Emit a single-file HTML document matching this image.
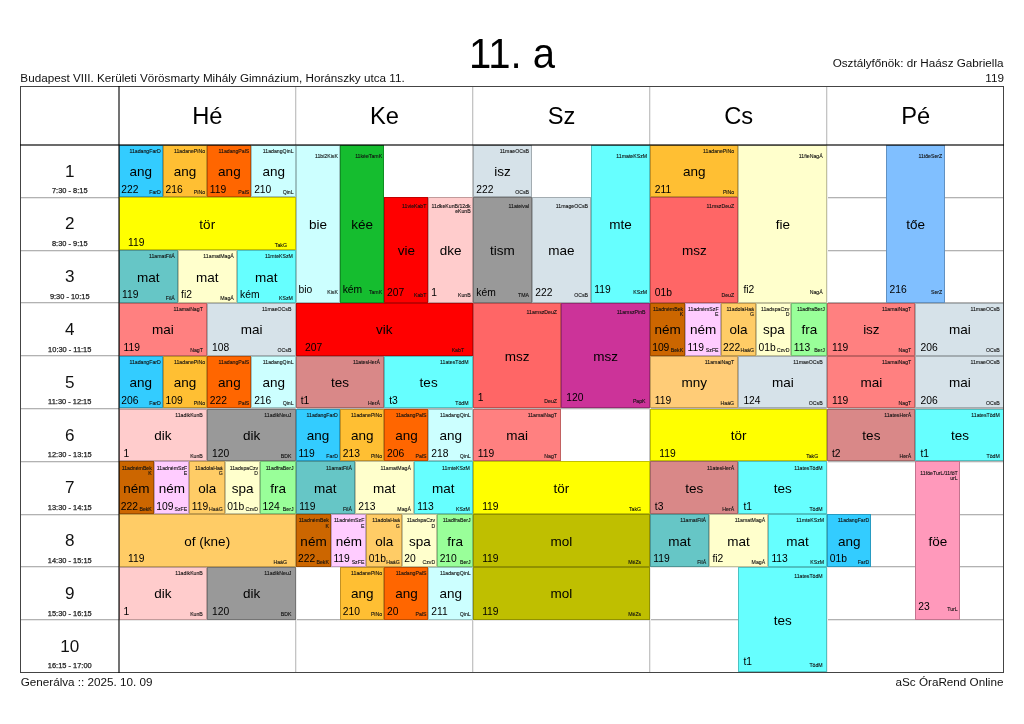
<!DOCTYPE html>
<html><head><meta charset="utf-8"><title>11. a</title><style>
*{margin:0;padding:0;box-sizing:border-box}
html,body{width:1024px;height:724px;background:#fff;overflow:hidden}
body{position:relative;font-family:"Liberation Sans", Arial, Helvetica, sans-serif;color:#000;will-change:transform}
.t{position:absolute;white-space:nowrap;line-height:1}
.t .c{display:inline-block;transform:translateX(-50%)}
.ttl .c{transform:translateX(-50%) scaleX(0.925)}
.l{position:absolute}
.s{-webkit-text-stroke:0.25px currentColor}
.s2{-webkit-text-stroke:0.1px currentColor}
.k{position:absolute;border:1px solid rgba(0,0,0,0.24)}
</style></head><body>
<div class="t ttl" style="left:511.7px;width:0;top:32.35px;font-size:43.3px;color:#000;"><span class="c">11. a</span></div>
<div class="t" style="left:20.35px;top:71.7px;font-size:11.7px;color:#111;">Budapest VIII. Kerületi Vörösmarty Mihály Gimnázium, Horánszky utca 11.</div>
<div class="t" style="right:20.5px;top:57.4px;font-size:11.7px;color:#111;">Osztályfőnök: dr Haász Gabriella</div>
<div class="t" style="right:20.1px;top:71.5px;font-size:11.7px;color:#111;">119</div>
<div class="t" style="left:20.7px;top:676px;font-size:11.7px;color:#111;">Generálva :: 2025. 10. 09</div>
<div class="t" style="right:20.6px;top:675.7px;font-size:11.7px;color:#111;">aSc ÓraRend Online</div>
<div class="l" style="left:20px;top:197px;width:984px;height:1px;background:#b2b2b2"></div>
<div class="l" style="left:20px;top:198px;width:984px;height:1px;background:#e8e8e8"></div>
<div class="l" style="left:20px;top:250px;width:984px;height:1px;background:#b2b2b2"></div>
<div class="l" style="left:20px;top:251px;width:984px;height:1px;background:#e8e8e8"></div>
<div class="l" style="left:20px;top:302px;width:984px;height:1px;background:#b2b2b2"></div>
<div class="l" style="left:20px;top:303px;width:984px;height:1px;background:#e8e8e8"></div>
<div class="l" style="left:20px;top:355px;width:984px;height:1px;background:#b2b2b2"></div>
<div class="l" style="left:20px;top:356px;width:984px;height:1px;background:#e8e8e8"></div>
<div class="l" style="left:20px;top:408px;width:984px;height:1px;background:#b2b2b2"></div>
<div class="l" style="left:20px;top:409px;width:984px;height:1px;background:#e8e8e8"></div>
<div class="l" style="left:20px;top:461px;width:984px;height:1px;background:#b2b2b2"></div>
<div class="l" style="left:20px;top:462px;width:984px;height:1px;background:#e8e8e8"></div>
<div class="l" style="left:20px;top:514px;width:984px;height:1px;background:#b2b2b2"></div>
<div class="l" style="left:20px;top:515px;width:984px;height:1px;background:#e8e8e8"></div>
<div class="l" style="left:20px;top:566px;width:984px;height:1px;background:#b2b2b2"></div>
<div class="l" style="left:20px;top:567px;width:984px;height:1px;background:#e8e8e8"></div>
<div class="l" style="left:20px;top:619px;width:984px;height:1px;background:#b2b2b2"></div>
<div class="l" style="left:20px;top:620px;width:984px;height:1px;background:#e8e8e8"></div>
<div class="l" style="left:295px;top:86px;width:1px;height:586.5px;background:#c4c4c4"></div>
<div class="l" style="left:296px;top:86px;width:1px;height:586.5px;background:#ececec"></div>
<div class="l" style="left:472px;top:86px;width:1px;height:586.5px;background:#c4c4c4"></div>
<div class="l" style="left:473px;top:86px;width:1px;height:586.5px;background:#ececec"></div>
<div class="l" style="left:649px;top:86px;width:1px;height:586.5px;background:#c4c4c4"></div>
<div class="l" style="left:650px;top:86px;width:1px;height:586.5px;background:#ececec"></div>
<div class="l" style="left:826px;top:86px;width:1px;height:586.5px;background:#c4c4c4"></div>
<div class="l" style="left:827px;top:86px;width:1px;height:586.5px;background:#ececec"></div>
<div class="t" style="left:207.35px;width:0;top:104.94px;font-size:23.7px;color:#000;"><span class="c">Hé</span></div>
<div class="t" style="left:384.45px;width:0;top:104.94px;font-size:23.7px;color:#000;"><span class="c">Ke</span></div>
<div class="t" style="left:561.55px;width:0;top:104.94px;font-size:23.7px;color:#000;"><span class="c">Sz</span></div>
<div class="t" style="left:738.65px;width:0;top:104.94px;font-size:23.7px;color:#000;"><span class="c">Cs</span></div>
<div class="t" style="left:915.75px;width:0;top:104.94px;font-size:23.7px;color:#000;"><span class="c">Pé</span></div>
<div class="t" style="left:69.85px;width:0;top:162.62px;font-size:17.1px;color:#111;"><span class="c">1</span></div>
<div class="t s" style="left:69.75px;width:0;top:187.19px;font-size:7.45px;color:#222;"><span class="c">7:30 - 8:15</span></div>
<div class="t" style="left:69.85px;width:0;top:215.42px;font-size:17.1px;color:#111;"><span class="c">2</span></div>
<div class="t s" style="left:69.75px;width:0;top:239.99px;font-size:7.45px;color:#222;"><span class="c">8:30 - 9:15</span></div>
<div class="t" style="left:69.85px;width:0;top:268.22px;font-size:17.1px;color:#111;"><span class="c">3</span></div>
<div class="t s" style="left:69.75px;width:0;top:292.79px;font-size:7.45px;color:#222;"><span class="c">9:30 - 10:15</span></div>
<div class="t" style="left:69.85px;width:0;top:321.02px;font-size:17.1px;color:#111;"><span class="c">4</span></div>
<div class="t s" style="left:69.75px;width:0;top:345.59px;font-size:7.45px;color:#222;"><span class="c">10:30 - 11:15</span></div>
<div class="t" style="left:69.85px;width:0;top:373.82px;font-size:17.1px;color:#111;"><span class="c">5</span></div>
<div class="t s" style="left:69.75px;width:0;top:398.39px;font-size:7.45px;color:#222;"><span class="c">11:30 - 12:15</span></div>
<div class="t" style="left:69.85px;width:0;top:426.62px;font-size:17.1px;color:#111;"><span class="c">6</span></div>
<div class="t s" style="left:69.75px;width:0;top:451.19px;font-size:7.45px;color:#222;"><span class="c">12:30 - 13:15</span></div>
<div class="t" style="left:69.85px;width:0;top:479.42px;font-size:17.1px;color:#111;"><span class="c">7</span></div>
<div class="t s" style="left:69.75px;width:0;top:503.99px;font-size:7.45px;color:#222;"><span class="c">13:30 - 14:15</span></div>
<div class="t" style="left:69.85px;width:0;top:532.22px;font-size:17.1px;color:#111;"><span class="c">8</span></div>
<div class="t s" style="left:69.75px;width:0;top:556.79px;font-size:7.45px;color:#222;"><span class="c">14:30 - 15:15</span></div>
<div class="t" style="left:69.85px;width:0;top:585.02px;font-size:17.1px;color:#111;"><span class="c">9</span></div>
<div class="t s" style="left:69.75px;width:0;top:609.59px;font-size:7.45px;color:#222;"><span class="c">15:30 - 16:15</span></div>
<div class="t" style="left:69.85px;width:0;top:637.82px;font-size:17.1px;color:#111;"><span class="c">10</span></div>
<div class="t s" style="left:69.75px;width:0;top:662.39px;font-size:7.45px;color:#222;"><span class="c">16:15 - 17:00</span></div>
<div class="k" style="left:118.5px;top:144.5px;width:44.28px;height:52.8px;background:#33ccff"></div>
<div class="t s2" style="right:863.24px;top:148.74px;font-size:5.2px;color:#111;">11adangFarD</div>
<div class="t" style="left:140.84px;width:0;top:164.95px;font-size:13.5px;color:#000;"><span class="c">ang</span></div>
<div class="t" style="left:121.31px;top:184.86px;font-size:10.3px;color:#000;">222</div>
<div class="t s2" style="right:863.24px;top:190.06px;font-size:5.2px;color:#111;">FarD</div>
<div class="k" style="left:162.78px;top:144.5px;width:44.28px;height:52.8px;background:#ffbf33"></div>
<div class="t s2" style="right:818.96px;top:148.74px;font-size:5.2px;color:#111;">11adanePiNo</div>
<div class="t" style="left:185.11px;width:0;top:164.95px;font-size:13.5px;color:#000;"><span class="c">ang</span></div>
<div class="t" style="left:165.59px;top:184.86px;font-size:10.3px;color:#000;">216</div>
<div class="t s2" style="right:818.96px;top:190.06px;font-size:5.2px;color:#111;">PiNo</div>
<div class="k" style="left:207.05px;top:144.5px;width:44.27px;height:52.8px;background:#ff6600"></div>
<div class="t s2" style="right:774.69px;top:148.74px;font-size:5.2px;color:#111;">11adangPalS</div>
<div class="t" style="left:229.39px;width:0;top:164.95px;font-size:13.5px;color:#000;"><span class="c">ang</span></div>
<div class="t" style="left:209.86px;top:184.86px;font-size:10.3px;color:#000;">119</div>
<div class="t s2" style="right:774.69px;top:190.06px;font-size:5.2px;color:#111;">PalS</div>
<div class="k" style="left:251.32px;top:144.5px;width:44.28px;height:52.8px;background:#ccffff"></div>
<div class="t s2" style="right:730.41px;top:148.74px;font-size:5.2px;color:#111;">11adangQinL</div>
<div class="t" style="left:273.66px;width:0;top:164.95px;font-size:13.5px;color:#000;"><span class="c">ang</span></div>
<div class="t" style="left:254.14px;top:184.86px;font-size:10.3px;color:#000;">210</div>
<div class="t s2" style="right:730.41px;top:190.06px;font-size:5.2px;color:#111;">QinL</div>
<div class="k" style="left:118.5px;top:197.3px;width:177.1px;height:52.8px;background:#ffff00"></div>
<div class="t" style="left:207.25px;width:0;top:217.75px;font-size:13.5px;color:#000;"><span class="c">tör</span></div>
<div class="t" style="left:127.95px;top:237.66px;font-size:10.3px;color:#000;">119</div>
<div class="t s2" style="right:737.06px;top:242.86px;font-size:5.2px;color:#111;">TakG</div>
<div class="k" style="left:118.5px;top:250.1px;width:59.03px;height:52.8px;background:#66c6c6"></div>
<div class="t s2" style="right:849.22px;top:254.34px;font-size:5.2px;color:#111;">11amatFilÁ</div>
<div class="t" style="left:148.22px;width:0;top:270.55px;font-size:13.5px;color:#000;"><span class="c">mat</span></div>
<div class="t" style="left:122.05px;top:290.46px;font-size:10.3px;color:#000;">119</div>
<div class="t s2" style="right:849.22px;top:295.66px;font-size:5.2px;color:#111;">FilÁ</div>
<div class="k" style="left:177.53px;top:250.1px;width:59.03px;height:52.8px;background:#ffffcc"></div>
<div class="t s2" style="right:790.18px;top:254.34px;font-size:5.2px;color:#111;">11amatMagÁ</div>
<div class="t" style="left:207.25px;width:0;top:270.55px;font-size:13.5px;color:#000;"><span class="c">mat</span></div>
<div class="t" style="left:181.08px;top:290.46px;font-size:10.3px;color:#000;">fi2</div>
<div class="t s2" style="right:790.18px;top:295.66px;font-size:5.2px;color:#111;">MagÁ</div>
<div class="k" style="left:236.57px;top:250.1px;width:59.03px;height:52.8px;background:#66ffff"></div>
<div class="t s2" style="right:731.15px;top:254.34px;font-size:5.2px;color:#111;">11mteKSzM</div>
<div class="t" style="left:266.28px;width:0;top:270.55px;font-size:13.5px;color:#000;"><span class="c">mat</span></div>
<div class="t" style="left:240.12px;top:290.46px;font-size:10.3px;color:#000;">kém</div>
<div class="t s2" style="right:731.15px;top:295.66px;font-size:5.2px;color:#111;">KSzM</div>
<div class="k" style="left:118.5px;top:302.9px;width:88.55px;height:52.8px;background:#ff8080"></div>
<div class="t s2" style="right:821.18px;top:307.14px;font-size:5.2px;color:#111;">11amaiNagT</div>
<div class="t" style="left:162.97px;width:0;top:323.35px;font-size:13.5px;color:#000;"><span class="c">mai</span></div>
<div class="t" style="left:123.53px;top:343.26px;font-size:10.3px;color:#000;">119</div>
<div class="t s2" style="right:821.18px;top:348.46px;font-size:5.2px;color:#111;">NagT</div>
<div class="k" style="left:207.05px;top:302.9px;width:88.55px;height:52.8px;background:#d6e2e9"></div>
<div class="t s2" style="right:732.63px;top:307.14px;font-size:5.2px;color:#111;">11maeOCsB</div>
<div class="t" style="left:251.53px;width:0;top:323.35px;font-size:13.5px;color:#000;"><span class="c">mai</span></div>
<div class="t" style="left:212.08px;top:343.26px;font-size:10.3px;color:#000;">108</div>
<div class="t s2" style="right:732.63px;top:348.46px;font-size:5.2px;color:#111;">OCsB</div>
<div class="k" style="left:118.5px;top:355.7px;width:44.28px;height:52.8px;background:#33ccff"></div>
<div class="t s2" style="right:863.24px;top:359.94px;font-size:5.2px;color:#111;">11adangFarD</div>
<div class="t" style="left:140.84px;width:0;top:376.15px;font-size:13.5px;color:#000;"><span class="c">ang</span></div>
<div class="t" style="left:121.31px;top:396.06px;font-size:10.3px;color:#000;">206</div>
<div class="t s2" style="right:863.24px;top:401.26px;font-size:5.2px;color:#111;">FarD</div>
<div class="k" style="left:162.78px;top:355.7px;width:44.28px;height:52.8px;background:#ffbf33"></div>
<div class="t s2" style="right:818.96px;top:359.94px;font-size:5.2px;color:#111;">11adanePiNo</div>
<div class="t" style="left:185.11px;width:0;top:376.15px;font-size:13.5px;color:#000;"><span class="c">ang</span></div>
<div class="t" style="left:165.59px;top:396.06px;font-size:10.3px;color:#000;">109</div>
<div class="t s2" style="right:818.96px;top:401.26px;font-size:5.2px;color:#111;">PiNo</div>
<div class="k" style="left:207.05px;top:355.7px;width:44.27px;height:52.8px;background:#ff6600"></div>
<div class="t s2" style="right:774.69px;top:359.94px;font-size:5.2px;color:#111;">11adangPalS</div>
<div class="t" style="left:229.39px;width:0;top:376.15px;font-size:13.5px;color:#000;"><span class="c">ang</span></div>
<div class="t" style="left:209.86px;top:396.06px;font-size:10.3px;color:#000;">222</div>
<div class="t s2" style="right:774.69px;top:401.26px;font-size:5.2px;color:#111;">PalS</div>
<div class="k" style="left:251.32px;top:355.7px;width:44.28px;height:52.8px;background:#ccffff"></div>
<div class="t s2" style="right:730.41px;top:359.94px;font-size:5.2px;color:#111;">11adangQinL</div>
<div class="t" style="left:273.66px;width:0;top:376.15px;font-size:13.5px;color:#000;"><span class="c">ang</span></div>
<div class="t" style="left:254.14px;top:396.06px;font-size:10.3px;color:#000;">216</div>
<div class="t s2" style="right:730.41px;top:401.26px;font-size:5.2px;color:#111;">QinL</div>
<div class="k" style="left:118.5px;top:408.5px;width:88.55px;height:52.8px;background:#ffcccc"></div>
<div class="t s2" style="right:821.18px;top:412.74px;font-size:5.2px;color:#111;">11adikKunB</div>
<div class="t" style="left:162.97px;width:0;top:428.95px;font-size:13.5px;color:#000;"><span class="c">dik</span></div>
<div class="t" style="left:123.53px;top:448.86px;font-size:10.3px;color:#000;">1</div>
<div class="t s2" style="right:821.18px;top:454.06px;font-size:5.2px;color:#111;">KunB</div>
<div class="k" style="left:207.05px;top:408.5px;width:88.55px;height:52.8px;background:#999999"></div>
<div class="t s2" style="right:732.63px;top:412.74px;font-size:5.2px;color:#111;">11adikNeuJ</div>
<div class="t" style="left:251.53px;width:0;top:428.95px;font-size:13.5px;color:#000;"><span class="c">dik</span></div>
<div class="t" style="left:212.08px;top:448.86px;font-size:10.3px;color:#000;">120</div>
<div class="t s2" style="right:732.63px;top:454.06px;font-size:5.2px;color:#111;">BDK</div>
<div class="k" style="left:118.5px;top:461.3px;width:35.42px;height:52.8px;background:#cc6600"></div>
<div class="t s2" style="right:872.18px;top:465.54px;font-size:5.2px;color:#111;">11adnémBek</div>
<div class="t s2" style="right:872.18px;top:470.74px;font-size:5.2px;color:#111;">K</div>
<div class="t" style="left:136.41px;width:0;top:481.75px;font-size:13.5px;color:#000;"><span class="c">ném</span></div>
<div class="t" style="left:120.87px;top:501.66px;font-size:10.3px;color:#000;">222</div>
<div class="t s2" style="right:872.18px;top:506.86px;font-size:5.2px;color:#111;">BekK</div>
<div class="k" style="left:153.92px;top:461.3px;width:35.42px;height:52.8px;background:#ffccff"></div>
<div class="t s2" style="right:836.76px;top:465.54px;font-size:5.2px;color:#111;">11adnémSzF</div>
<div class="t s2" style="right:836.76px;top:470.74px;font-size:5.2px;color:#111;">E</div>
<div class="t" style="left:171.83px;width:0;top:481.75px;font-size:13.5px;color:#000;"><span class="c">ném</span></div>
<div class="t" style="left:156.29px;top:501.66px;font-size:10.3px;color:#000;">109</div>
<div class="t s2" style="right:836.76px;top:506.86px;font-size:5.2px;color:#111;">SzFE</div>
<div class="k" style="left:189.34px;top:461.3px;width:35.42px;height:52.8px;background:#ffcc66"></div>
<div class="t s2" style="right:801.34px;top:465.54px;font-size:5.2px;color:#111;">11adolaHaá</div>
<div class="t s2" style="right:801.34px;top:470.74px;font-size:5.2px;color:#111;">G</div>
<div class="t" style="left:207.25px;width:0;top:481.75px;font-size:13.5px;color:#000;"><span class="c">ola</span></div>
<div class="t" style="left:191.71px;top:501.66px;font-size:10.3px;color:#000;">119</div>
<div class="t s2" style="right:801.34px;top:506.86px;font-size:5.2px;color:#111;">HaáG</div>
<div class="k" style="left:224.76px;top:461.3px;width:35.42px;height:52.8px;background:#ffffcc"></div>
<div class="t s2" style="right:765.92px;top:465.54px;font-size:5.2px;color:#111;">11adspaCzv</div>
<div class="t s2" style="right:765.92px;top:470.74px;font-size:5.2px;color:#111;">D</div>
<div class="t" style="left:242.67px;width:0;top:481.75px;font-size:13.5px;color:#000;"><span class="c">spa</span></div>
<div class="t" style="left:227.13px;top:501.66px;font-size:10.3px;color:#000;">01b</div>
<div class="t s2" style="right:765.92px;top:506.86px;font-size:5.2px;color:#111;">CzvD</div>
<div class="k" style="left:260.18px;top:461.3px;width:35.42px;height:52.8px;background:#99ff99"></div>
<div class="t s2" style="right:730.5px;top:465.54px;font-size:5.2px;color:#111;">11adfraBerJ</div>
<div class="t" style="left:278.09px;width:0;top:481.75px;font-size:13.5px;color:#000;"><span class="c">fra</span></div>
<div class="t" style="left:262.55px;top:501.66px;font-size:10.3px;color:#000;">124</div>
<div class="t s2" style="right:730.5px;top:506.86px;font-size:5.2px;color:#111;">BerJ</div>
<div class="k" style="left:118.5px;top:514.1px;width:177.1px;height:52.8px;background:#ffcc66"></div>
<div class="t" style="left:207.25px;width:0;top:534.55px;font-size:13.5px;color:#000;"><span class="c">of (kne)</span></div>
<div class="t" style="left:127.95px;top:554.46px;font-size:10.3px;color:#000;">119</div>
<div class="t s2" style="right:737.06px;top:559.66px;font-size:5.2px;color:#111;">HaáG</div>
<div class="k" style="left:118.5px;top:566.9px;width:88.55px;height:52.8px;background:#ffcccc"></div>
<div class="t s2" style="right:821.18px;top:571.14px;font-size:5.2px;color:#111;">11adikKunB</div>
<div class="t" style="left:162.97px;width:0;top:587.35px;font-size:13.5px;color:#000;"><span class="c">dik</span></div>
<div class="t" style="left:123.53px;top:607.26px;font-size:10.3px;color:#000;">1</div>
<div class="t s2" style="right:821.18px;top:612.46px;font-size:5.2px;color:#111;">KunB</div>
<div class="k" style="left:207.05px;top:566.9px;width:88.55px;height:52.8px;background:#999999"></div>
<div class="t s2" style="right:732.63px;top:571.14px;font-size:5.2px;color:#111;">11adikNeuJ</div>
<div class="t" style="left:251.53px;width:0;top:587.35px;font-size:13.5px;color:#000;"><span class="c">dik</span></div>
<div class="t" style="left:212.08px;top:607.26px;font-size:10.3px;color:#000;">120</div>
<div class="t s2" style="right:732.63px;top:612.46px;font-size:5.2px;color:#111;">BDK</div>
<div class="k" style="left:295.6px;top:144.5px;width:44.27px;height:158.4px;background:#ccffff"></div>
<div class="t s2" style="right:686.14px;top:154.02px;font-size:5.2px;color:#111;">11bi2KisK</div>
<div class="t" style="left:317.94px;width:0;top:217.75px;font-size:13.5px;color:#000;"><span class="c">bie</span></div>
<div class="t" style="left:298.41px;top:285.18px;font-size:10.3px;color:#000;">bio</div>
<div class="t s2" style="right:686.14px;top:290.38px;font-size:5.2px;color:#111;">KisK</div>
<div class="k" style="left:339.88px;top:144.5px;width:44.28px;height:158.4px;background:#15bd2f"></div>
<div class="t s2" style="right:641.86px;top:154.02px;font-size:5.2px;color:#111;">11kéeTamK</div>
<div class="t" style="left:362.21px;width:0;top:217.75px;font-size:13.5px;color:#000;"><span class="c">kée</span></div>
<div class="t" style="left:342.69px;top:285.18px;font-size:10.3px;color:#000;">kém</div>
<div class="t s2" style="right:641.86px;top:290.38px;font-size:5.2px;color:#111;">TamK</div>
<div class="k" style="left:384.15px;top:197.3px;width:44.27px;height:105.6px;background:#ff0000"></div>
<div class="t s2" style="right:597.59px;top:204.18px;font-size:5.2px;color:#111;">11vieKabT</div>
<div class="t" style="left:406.49px;width:0;top:244.15px;font-size:13.5px;color:#000;"><span class="c">vie</span></div>
<div class="t" style="left:386.96px;top:287.82px;font-size:10.3px;color:#000;">207</div>
<div class="t s2" style="right:597.59px;top:293.02px;font-size:5.2px;color:#111;">KabT</div>
<div class="k" style="left:428.43px;top:197.3px;width:44.28px;height:105.6px;background:#ffcccc"></div>
<div class="t s2" style="right:553.31px;top:204.18px;font-size:5.2px;color:#111;">11dkeKunB/12dk</div>
<div class="t s2" style="right:553.31px;top:209.38px;font-size:5.2px;color:#111;">eKunB</div>
<div class="t" style="left:450.76px;width:0;top:244.15px;font-size:13.5px;color:#000;"><span class="c">dke</span></div>
<div class="t" style="left:431.24px;top:287.82px;font-size:10.3px;color:#000;">1</div>
<div class="t s2" style="right:553.31px;top:293.02px;font-size:5.2px;color:#111;">KunB</div>
<div class="k" style="left:295.6px;top:302.9px;width:177.1px;height:52.8px;background:#ff0000"></div>
<div class="t" style="left:384.35px;width:0;top:323.35px;font-size:13.5px;color:#000;"><span class="c">vik</span></div>
<div class="t" style="left:305.06px;top:343.26px;font-size:10.3px;color:#000;">207</div>
<div class="t s2" style="right:559.95px;top:348.46px;font-size:5.2px;color:#111;">KabT</div>
<div class="k" style="left:295.6px;top:355.7px;width:88.55px;height:52.8px;background:#d98888"></div>
<div class="t s2" style="right:644.08px;top:359.94px;font-size:5.2px;color:#111;">11atesHerÁ</div>
<div class="t" style="left:340.07px;width:0;top:376.15px;font-size:13.5px;color:#000;"><span class="c">tes</span></div>
<div class="t" style="left:300.63px;top:396.06px;font-size:10.3px;color:#000;">t1</div>
<div class="t s2" style="right:644.08px;top:401.26px;font-size:5.2px;color:#111;">HerÁ</div>
<div class="k" style="left:384.15px;top:355.7px;width:88.55px;height:52.8px;background:#66ffff"></div>
<div class="t s2" style="right:555.53px;top:359.94px;font-size:5.2px;color:#111;">11atesTödM</div>
<div class="t" style="left:428.63px;width:0;top:376.15px;font-size:13.5px;color:#000;"><span class="c">tes</span></div>
<div class="t" style="left:389.18px;top:396.06px;font-size:10.3px;color:#000;">t3</div>
<div class="t s2" style="right:555.53px;top:401.26px;font-size:5.2px;color:#111;">TödM</div>
<div class="k" style="left:295.6px;top:408.5px;width:44.27px;height:52.8px;background:#33ccff"></div>
<div class="t s2" style="right:686.14px;top:412.74px;font-size:5.2px;color:#111;">11adangFarD</div>
<div class="t" style="left:317.94px;width:0;top:428.95px;font-size:13.5px;color:#000;"><span class="c">ang</span></div>
<div class="t" style="left:298.41px;top:448.86px;font-size:10.3px;color:#000;">119</div>
<div class="t s2" style="right:686.14px;top:454.06px;font-size:5.2px;color:#111;">FarD</div>
<div class="k" style="left:339.88px;top:408.5px;width:44.28px;height:52.8px;background:#ffbf33"></div>
<div class="t s2" style="right:641.86px;top:412.74px;font-size:5.2px;color:#111;">11adanePiNo</div>
<div class="t" style="left:362.21px;width:0;top:428.95px;font-size:13.5px;color:#000;"><span class="c">ang</span></div>
<div class="t" style="left:342.69px;top:448.86px;font-size:10.3px;color:#000;">213</div>
<div class="t s2" style="right:641.86px;top:454.06px;font-size:5.2px;color:#111;">PiNo</div>
<div class="k" style="left:384.15px;top:408.5px;width:44.27px;height:52.8px;background:#ff6600"></div>
<div class="t s2" style="right:597.59px;top:412.74px;font-size:5.2px;color:#111;">11adangPalS</div>
<div class="t" style="left:406.49px;width:0;top:428.95px;font-size:13.5px;color:#000;"><span class="c">ang</span></div>
<div class="t" style="left:386.96px;top:448.86px;font-size:10.3px;color:#000;">206</div>
<div class="t s2" style="right:597.59px;top:454.06px;font-size:5.2px;color:#111;">PalS</div>
<div class="k" style="left:428.43px;top:408.5px;width:44.28px;height:52.8px;background:#ccffff"></div>
<div class="t s2" style="right:553.31px;top:412.74px;font-size:5.2px;color:#111;">11adangQinL</div>
<div class="t" style="left:450.76px;width:0;top:428.95px;font-size:13.5px;color:#000;"><span class="c">ang</span></div>
<div class="t" style="left:431.24px;top:448.86px;font-size:10.3px;color:#000;">218</div>
<div class="t s2" style="right:553.31px;top:454.06px;font-size:5.2px;color:#111;">QinL</div>
<div class="k" style="left:295.6px;top:461.3px;width:59.03px;height:52.8px;background:#66c6c6"></div>
<div class="t s2" style="right:672.12px;top:465.54px;font-size:5.2px;color:#111;">11amatFilÁ</div>
<div class="t" style="left:325.32px;width:0;top:481.75px;font-size:13.5px;color:#000;"><span class="c">mat</span></div>
<div class="t" style="left:299.15px;top:501.66px;font-size:10.3px;color:#000;">119</div>
<div class="t s2" style="right:672.12px;top:506.86px;font-size:5.2px;color:#111;">FilÁ</div>
<div class="k" style="left:354.63px;top:461.3px;width:59.03px;height:52.8px;background:#ffffcc"></div>
<div class="t s2" style="right:613.09px;top:465.54px;font-size:5.2px;color:#111;">11amatMagÁ</div>
<div class="t" style="left:384.35px;width:0;top:481.75px;font-size:13.5px;color:#000;"><span class="c">mat</span></div>
<div class="t" style="left:358.19px;top:501.66px;font-size:10.3px;color:#000;">213</div>
<div class="t s2" style="right:613.09px;top:506.86px;font-size:5.2px;color:#111;">MagÁ</div>
<div class="k" style="left:413.67px;top:461.3px;width:59.03px;height:52.8px;background:#66ffff"></div>
<div class="t s2" style="right:554.05px;top:465.54px;font-size:5.2px;color:#111;">11mteKSzM</div>
<div class="t" style="left:443.38px;width:0;top:481.75px;font-size:13.5px;color:#000;"><span class="c">mat</span></div>
<div class="t" style="left:417.22px;top:501.66px;font-size:10.3px;color:#000;">113</div>
<div class="t s2" style="right:554.05px;top:506.86px;font-size:5.2px;color:#111;">KSzM</div>
<div class="k" style="left:295.6px;top:514.1px;width:35.42px;height:52.8px;background:#cc6600"></div>
<div class="t s2" style="right:695.08px;top:518.34px;font-size:5.2px;color:#111;">11adnémBek</div>
<div class="t s2" style="right:695.08px;top:523.54px;font-size:5.2px;color:#111;">K</div>
<div class="t" style="left:313.51px;width:0;top:534.55px;font-size:13.5px;color:#000;"><span class="c">ném</span></div>
<div class="t" style="left:297.97px;top:554.46px;font-size:10.3px;color:#000;">222</div>
<div class="t s2" style="right:695.08px;top:559.66px;font-size:5.2px;color:#111;">BekK</div>
<div class="k" style="left:331.02px;top:514.1px;width:35.42px;height:52.8px;background:#ffccff"></div>
<div class="t s2" style="right:659.66px;top:518.34px;font-size:5.2px;color:#111;">11adnémSzF</div>
<div class="t s2" style="right:659.66px;top:523.54px;font-size:5.2px;color:#111;">E</div>
<div class="t" style="left:348.93px;width:0;top:534.55px;font-size:13.5px;color:#000;"><span class="c">ném</span></div>
<div class="t" style="left:333.39px;top:554.46px;font-size:10.3px;color:#000;">119</div>
<div class="t s2" style="right:659.66px;top:559.66px;font-size:5.2px;color:#111;">SzFE</div>
<div class="k" style="left:366.44px;top:514.1px;width:35.42px;height:52.8px;background:#ffcc66"></div>
<div class="t s2" style="right:624.24px;top:518.34px;font-size:5.2px;color:#111;">11adolaHaá</div>
<div class="t s2" style="right:624.24px;top:523.54px;font-size:5.2px;color:#111;">G</div>
<div class="t" style="left:384.35px;width:0;top:534.55px;font-size:13.5px;color:#000;"><span class="c">ola</span></div>
<div class="t" style="left:368.81px;top:554.46px;font-size:10.3px;color:#000;">01b</div>
<div class="t s2" style="right:624.24px;top:559.66px;font-size:5.2px;color:#111;">HaáG</div>
<div class="k" style="left:401.86px;top:514.1px;width:35.42px;height:52.8px;background:#ffffcc"></div>
<div class="t s2" style="right:588.82px;top:518.34px;font-size:5.2px;color:#111;">11adspaCzv</div>
<div class="t s2" style="right:588.82px;top:523.54px;font-size:5.2px;color:#111;">D</div>
<div class="t" style="left:419.77px;width:0;top:534.55px;font-size:13.5px;color:#000;"><span class="c">spa</span></div>
<div class="t" style="left:404.23px;top:554.46px;font-size:10.3px;color:#000;">20</div>
<div class="t s2" style="right:588.82px;top:559.66px;font-size:5.2px;color:#111;">CzvD</div>
<div class="k" style="left:437.28px;top:514.1px;width:35.42px;height:52.8px;background:#99ff99"></div>
<div class="t s2" style="right:553.4px;top:518.34px;font-size:5.2px;color:#111;">11adfraBerJ</div>
<div class="t" style="left:455.19px;width:0;top:534.55px;font-size:13.5px;color:#000;"><span class="c">fra</span></div>
<div class="t" style="left:439.65px;top:554.46px;font-size:10.3px;color:#000;">210</div>
<div class="t s2" style="right:553.4px;top:559.66px;font-size:5.2px;color:#111;">BerJ</div>
<div class="k" style="left:339.88px;top:566.9px;width:44.28px;height:52.8px;background:#ffbf33"></div>
<div class="t s2" style="right:641.86px;top:571.14px;font-size:5.2px;color:#111;">11adanePiNo</div>
<div class="t" style="left:362.21px;width:0;top:587.35px;font-size:13.5px;color:#000;"><span class="c">ang</span></div>
<div class="t" style="left:342.69px;top:607.26px;font-size:10.3px;color:#000;">210</div>
<div class="t s2" style="right:641.86px;top:612.46px;font-size:5.2px;color:#111;">PiNo</div>
<div class="k" style="left:384.15px;top:566.9px;width:44.27px;height:52.8px;background:#ff6600"></div>
<div class="t s2" style="right:597.59px;top:571.14px;font-size:5.2px;color:#111;">11adangPalS</div>
<div class="t" style="left:406.49px;width:0;top:587.35px;font-size:13.5px;color:#000;"><span class="c">ang</span></div>
<div class="t" style="left:386.96px;top:607.26px;font-size:10.3px;color:#000;">20</div>
<div class="t s2" style="right:597.59px;top:612.46px;font-size:5.2px;color:#111;">PalS</div>
<div class="k" style="left:428.43px;top:566.9px;width:44.28px;height:52.8px;background:#ccffff"></div>
<div class="t s2" style="right:553.31px;top:571.14px;font-size:5.2px;color:#111;">11adangQinL</div>
<div class="t" style="left:450.76px;width:0;top:587.35px;font-size:13.5px;color:#000;"><span class="c">ang</span></div>
<div class="t" style="left:431.24px;top:607.26px;font-size:10.3px;color:#000;">211</div>
<div class="t s2" style="right:553.31px;top:612.46px;font-size:5.2px;color:#111;">QinL</div>
<div class="k" style="left:472.7px;top:144.5px;width:59.03px;height:52.8px;background:#d6e2e9"></div>
<div class="t s2" style="right:495.02px;top:148.74px;font-size:5.2px;color:#111;">11maeOCsB</div>
<div class="t" style="left:502.42px;width:0;top:164.95px;font-size:13.5px;color:#000;"><span class="c">isz</span></div>
<div class="t" style="left:476.25px;top:184.86px;font-size:10.3px;color:#000;">222</div>
<div class="t s2" style="right:495.02px;top:190.06px;font-size:5.2px;color:#111;">OCsB</div>
<div class="k" style="left:590.77px;top:144.5px;width:59.03px;height:158.4px;background:#66ffff"></div>
<div class="t s2" style="right:376.95px;top:154.02px;font-size:5.2px;color:#111;">11mateKSzM</div>
<div class="t" style="left:620.48px;width:0;top:217.75px;font-size:13.5px;color:#000;"><span class="c">mte</span></div>
<div class="t" style="left:594.32px;top:285.18px;font-size:10.3px;color:#000;">119</div>
<div class="t s2" style="right:376.95px;top:290.38px;font-size:5.2px;color:#111;">KSzM</div>
<div class="k" style="left:472.7px;top:197.3px;width:59.03px;height:105.6px;background:#999999"></div>
<div class="t s2" style="right:495.02px;top:204.18px;font-size:5.2px;color:#111;">11ateival</div>
<div class="t" style="left:502.42px;width:0;top:244.15px;font-size:13.5px;color:#000;"><span class="c">tism</span></div>
<div class="t" style="left:476.25px;top:287.82px;font-size:10.3px;color:#000;">kém</div>
<div class="t s2" style="right:495.02px;top:293.02px;font-size:5.2px;color:#111;">TMA</div>
<div class="k" style="left:531.73px;top:197.3px;width:59.03px;height:105.6px;background:#d6e2e9"></div>
<div class="t s2" style="right:435.99px;top:204.18px;font-size:5.2px;color:#111;">11mageOCsB</div>
<div class="t" style="left:561.45px;width:0;top:244.15px;font-size:13.5px;color:#000;"><span class="c">mae</span></div>
<div class="t" style="left:535.29px;top:287.82px;font-size:10.3px;color:#000;">222</div>
<div class="t s2" style="right:435.99px;top:293.02px;font-size:5.2px;color:#111;">OCsB</div>
<div class="k" style="left:472.7px;top:302.9px;width:88.55px;height:105.6px;background:#ff6666"></div>
<div class="t s2" style="right:466.98px;top:309.78px;font-size:5.2px;color:#111;">11amszDeuZ</div>
<div class="t" style="left:517.18px;width:0;top:349.75px;font-size:13.5px;color:#000;"><span class="c">msz</span></div>
<div class="t" style="left:477.73px;top:393.42px;font-size:10.3px;color:#000;">1</div>
<div class="t s2" style="right:466.98px;top:398.62px;font-size:5.2px;color:#111;">DeuZ</div>
<div class="k" style="left:561.25px;top:302.9px;width:88.55px;height:105.6px;background:#cc3399"></div>
<div class="t s2" style="right:378.43px;top:309.78px;font-size:5.2px;color:#111;">11amszPinB</div>
<div class="t" style="left:605.73px;width:0;top:349.75px;font-size:13.5px;color:#000;"><span class="c">msz</span></div>
<div class="t" style="left:566.28px;top:393.42px;font-size:10.3px;color:#000;">120</div>
<div class="t s2" style="right:378.43px;top:398.62px;font-size:5.2px;color:#111;">PapK</div>
<div class="k" style="left:472.7px;top:408.5px;width:88.55px;height:52.8px;background:#ff8080"></div>
<div class="t s2" style="right:466.98px;top:412.74px;font-size:5.2px;color:#111;">11amaiNagT</div>
<div class="t" style="left:517.18px;width:0;top:428.95px;font-size:13.5px;color:#000;"><span class="c">mai</span></div>
<div class="t" style="left:477.73px;top:448.86px;font-size:10.3px;color:#000;">119</div>
<div class="t s2" style="right:466.98px;top:454.06px;font-size:5.2px;color:#111;">NagT</div>
<div class="k" style="left:472.7px;top:461.3px;width:177.1px;height:52.8px;background:#ffff00"></div>
<div class="t" style="left:561.45px;width:0;top:481.75px;font-size:13.5px;color:#000;"><span class="c">tör</span></div>
<div class="t" style="left:482.16px;top:501.66px;font-size:10.3px;color:#000;">119</div>
<div class="t s2" style="right:382.86px;top:506.86px;font-size:5.2px;color:#111;">TakG</div>
<div class="k" style="left:472.7px;top:514.1px;width:177.1px;height:52.8px;background:#bfbf00"></div>
<div class="t" style="left:561.45px;width:0;top:534.55px;font-size:13.5px;color:#000;"><span class="c">mol</span></div>
<div class="t" style="left:482.16px;top:554.46px;font-size:10.3px;color:#000;">119</div>
<div class="t s2" style="right:382.86px;top:559.66px;font-size:5.2px;color:#111;">MéZs</div>
<div class="k" style="left:472.7px;top:566.9px;width:177.1px;height:52.8px;background:#bfbf00"></div>
<div class="t" style="left:561.45px;width:0;top:587.35px;font-size:13.5px;color:#000;"><span class="c">mol</span></div>
<div class="t" style="left:482.16px;top:607.26px;font-size:10.3px;color:#000;">119</div>
<div class="t s2" style="right:382.86px;top:612.46px;font-size:5.2px;color:#111;">MéZs</div>
<div class="k" style="left:649.8px;top:144.5px;width:88.55px;height:52.8px;background:#ffbf33"></div>
<div class="t s2" style="right:289.88px;top:148.74px;font-size:5.2px;color:#111;">11adanePiNo</div>
<div class="t" style="left:694.27px;width:0;top:164.95px;font-size:13.5px;color:#000;"><span class="c">ang</span></div>
<div class="t" style="left:654.83px;top:184.86px;font-size:10.3px;color:#000;">211</div>
<div class="t s2" style="right:289.88px;top:190.06px;font-size:5.2px;color:#111;">PiNo</div>
<div class="k" style="left:738.35px;top:144.5px;width:88.55px;height:158.4px;background:#ffffcc"></div>
<div class="t s2" style="right:201.33px;top:154.02px;font-size:5.2px;color:#111;">11fieNagÁ</div>
<div class="t" style="left:782.83px;width:0;top:217.75px;font-size:13.5px;color:#000;"><span class="c">fie</span></div>
<div class="t" style="left:743.38px;top:285.18px;font-size:10.3px;color:#000;">fi2</div>
<div class="t s2" style="right:201.33px;top:290.38px;font-size:5.2px;color:#111;">NagÁ</div>
<div class="k" style="left:649.8px;top:197.3px;width:88.55px;height:105.6px;background:#ff6666"></div>
<div class="t s2" style="right:289.88px;top:204.18px;font-size:5.2px;color:#111;">11mszDeuZ</div>
<div class="t" style="left:694.27px;width:0;top:244.15px;font-size:13.5px;color:#000;"><span class="c">msz</span></div>
<div class="t" style="left:654.83px;top:287.82px;font-size:10.3px;color:#000;">01b</div>
<div class="t s2" style="right:289.88px;top:293.02px;font-size:5.2px;color:#111;">DeuZ</div>
<div class="k" style="left:649.8px;top:302.9px;width:35.42px;height:52.8px;background:#cc6600"></div>
<div class="t s2" style="right:340.88px;top:307.14px;font-size:5.2px;color:#111;">11adnémBek</div>
<div class="t s2" style="right:340.88px;top:312.34px;font-size:5.2px;color:#111;">K</div>
<div class="t" style="left:667.71px;width:0;top:323.35px;font-size:13.5px;color:#000;"><span class="c">ném</span></div>
<div class="t" style="left:652.17px;top:343.26px;font-size:10.3px;color:#000;">109</div>
<div class="t s2" style="right:340.88px;top:348.46px;font-size:5.2px;color:#111;">BekK</div>
<div class="k" style="left:685.22px;top:302.9px;width:35.42px;height:52.8px;background:#ffccff"></div>
<div class="t s2" style="right:305.46px;top:307.14px;font-size:5.2px;color:#111;">11adnémSzF</div>
<div class="t s2" style="right:305.46px;top:312.34px;font-size:5.2px;color:#111;">E</div>
<div class="t" style="left:703.13px;width:0;top:323.35px;font-size:13.5px;color:#000;"><span class="c">ném</span></div>
<div class="t" style="left:687.59px;top:343.26px;font-size:10.3px;color:#000;">119</div>
<div class="t s2" style="right:305.46px;top:348.46px;font-size:5.2px;color:#111;">SzFE</div>
<div class="k" style="left:720.64px;top:302.9px;width:35.42px;height:52.8px;background:#ffcc66"></div>
<div class="t s2" style="right:270.04px;top:307.14px;font-size:5.2px;color:#111;">11adolaHaá</div>
<div class="t s2" style="right:270.04px;top:312.34px;font-size:5.2px;color:#111;">G</div>
<div class="t" style="left:738.55px;width:0;top:323.35px;font-size:13.5px;color:#000;"><span class="c">ola</span></div>
<div class="t" style="left:723.01px;top:343.26px;font-size:10.3px;color:#000;">222</div>
<div class="t s2" style="right:270.04px;top:348.46px;font-size:5.2px;color:#111;">HaáG</div>
<div class="k" style="left:756.06px;top:302.9px;width:35.42px;height:52.8px;background:#ffffcc"></div>
<div class="t s2" style="right:234.62px;top:307.14px;font-size:5.2px;color:#111;">11adspaCzv</div>
<div class="t s2" style="right:234.62px;top:312.34px;font-size:5.2px;color:#111;">D</div>
<div class="t" style="left:773.97px;width:0;top:323.35px;font-size:13.5px;color:#000;"><span class="c">spa</span></div>
<div class="t" style="left:758.43px;top:343.26px;font-size:10.3px;color:#000;">01b</div>
<div class="t s2" style="right:234.62px;top:348.46px;font-size:5.2px;color:#111;">CzvD</div>
<div class="k" style="left:791.48px;top:302.9px;width:35.42px;height:52.8px;background:#99ff99"></div>
<div class="t s2" style="right:199.2px;top:307.14px;font-size:5.2px;color:#111;">11adfraBerJ</div>
<div class="t" style="left:809.39px;width:0;top:323.35px;font-size:13.5px;color:#000;"><span class="c">fra</span></div>
<div class="t" style="left:793.85px;top:343.26px;font-size:10.3px;color:#000;">113</div>
<div class="t s2" style="right:199.2px;top:348.46px;font-size:5.2px;color:#111;">BerJ</div>
<div class="k" style="left:649.8px;top:355.7px;width:88.55px;height:52.8px;background:#ffcc77"></div>
<div class="t s2" style="right:289.88px;top:359.94px;font-size:5.2px;color:#111;">11amaiNagT</div>
<div class="t" style="left:694.27px;width:0;top:376.15px;font-size:13.5px;color:#000;"><span class="c">mny</span></div>
<div class="t" style="left:654.83px;top:396.06px;font-size:10.3px;color:#000;">119</div>
<div class="t s2" style="right:289.88px;top:401.26px;font-size:5.2px;color:#111;">HaáG</div>
<div class="k" style="left:738.35px;top:355.7px;width:88.55px;height:52.8px;background:#d6e2e9"></div>
<div class="t s2" style="right:201.33px;top:359.94px;font-size:5.2px;color:#111;">11maeOCsB</div>
<div class="t" style="left:782.83px;width:0;top:376.15px;font-size:13.5px;color:#000;"><span class="c">mai</span></div>
<div class="t" style="left:743.38px;top:396.06px;font-size:10.3px;color:#000;">124</div>
<div class="t s2" style="right:201.33px;top:401.26px;font-size:5.2px;color:#111;">OCsB</div>
<div class="k" style="left:649.8px;top:408.5px;width:177.1px;height:52.8px;background:#ffff00"></div>
<div class="t" style="left:738.55px;width:0;top:428.95px;font-size:13.5px;color:#000;"><span class="c">tör</span></div>
<div class="t" style="left:659.25px;top:448.86px;font-size:10.3px;color:#000;">119</div>
<div class="t s2" style="right:205.75px;top:454.06px;font-size:5.2px;color:#111;">TakG</div>
<div class="k" style="left:649.8px;top:461.3px;width:88.55px;height:52.8px;background:#d98888"></div>
<div class="t s2" style="right:289.88px;top:465.54px;font-size:5.2px;color:#111;">11atesHerÁ</div>
<div class="t" style="left:694.27px;width:0;top:481.75px;font-size:13.5px;color:#000;"><span class="c">tes</span></div>
<div class="t" style="left:654.83px;top:501.66px;font-size:10.3px;color:#000;">t3</div>
<div class="t s2" style="right:289.88px;top:506.86px;font-size:5.2px;color:#111;">HerÁ</div>
<div class="k" style="left:738.35px;top:461.3px;width:88.55px;height:52.8px;background:#66ffff"></div>
<div class="t s2" style="right:201.33px;top:465.54px;font-size:5.2px;color:#111;">11atesTödM</div>
<div class="t" style="left:782.83px;width:0;top:481.75px;font-size:13.5px;color:#000;"><span class="c">tes</span></div>
<div class="t" style="left:743.38px;top:501.66px;font-size:10.3px;color:#000;">t1</div>
<div class="t s2" style="right:201.33px;top:506.86px;font-size:5.2px;color:#111;">TödM</div>
<div class="k" style="left:649.8px;top:514.1px;width:59.03px;height:52.8px;background:#66c6c6"></div>
<div class="t s2" style="right:317.92px;top:518.34px;font-size:5.2px;color:#111;">11amatFilÁ</div>
<div class="t" style="left:679.52px;width:0;top:534.55px;font-size:13.5px;color:#000;"><span class="c">mat</span></div>
<div class="t" style="left:653.35px;top:554.46px;font-size:10.3px;color:#000;">119</div>
<div class="t s2" style="right:317.92px;top:559.66px;font-size:5.2px;color:#111;">FilÁ</div>
<div class="k" style="left:708.83px;top:514.1px;width:59.03px;height:52.8px;background:#ffffcc"></div>
<div class="t s2" style="right:258.89px;top:518.34px;font-size:5.2px;color:#111;">11amatMagÁ</div>
<div class="t" style="left:738.55px;width:0;top:534.55px;font-size:13.5px;color:#000;"><span class="c">mat</span></div>
<div class="t" style="left:712.38px;top:554.46px;font-size:10.3px;color:#000;">fi2</div>
<div class="t s2" style="right:258.89px;top:559.66px;font-size:5.2px;color:#111;">MagÁ</div>
<div class="k" style="left:767.87px;top:514.1px;width:59.03px;height:52.8px;background:#66ffff"></div>
<div class="t s2" style="right:199.85px;top:518.34px;font-size:5.2px;color:#111;">11mteKSzM</div>
<div class="t" style="left:797.58px;width:0;top:534.55px;font-size:13.5px;color:#000;"><span class="c">mat</span></div>
<div class="t" style="left:771.42px;top:554.46px;font-size:10.3px;color:#000;">113</div>
<div class="t s2" style="right:199.85px;top:559.66px;font-size:5.2px;color:#111;">KSzM</div>
<div class="k" style="left:738.35px;top:566.9px;width:88.55px;height:105.6px;background:#66ffff"></div>
<div class="t s2" style="right:201.33px;top:573.78px;font-size:5.2px;color:#111;">11atesTödM</div>
<div class="t" style="left:782.83px;width:0;top:613.75px;font-size:13.5px;color:#000;"><span class="c">tes</span></div>
<div class="t" style="left:743.38px;top:657.42px;font-size:10.3px;color:#000;">t1</div>
<div class="t s2" style="right:201.33px;top:662.62px;font-size:5.2px;color:#111;">TödM</div>
<div class="k" style="left:885.93px;top:144.5px;width:59.03px;height:158.4px;background:#80bfff"></div>
<div class="t s2" style="right:81.78px;top:154.02px;font-size:5.2px;color:#111;">11tőeSerZ</div>
<div class="t" style="left:915.65px;width:0;top:217.75px;font-size:13.5px;color:#000;"><span class="c">tőe</span></div>
<div class="t" style="left:889.49px;top:285.18px;font-size:10.3px;color:#000;">216</div>
<div class="t s2" style="right:81.78px;top:290.38px;font-size:5.2px;color:#111;">SerZ</div>
<div class="k" style="left:826.9px;top:302.9px;width:88.55px;height:52.8px;background:#ff8080"></div>
<div class="t s2" style="right:112.78px;top:307.14px;font-size:5.2px;color:#111;">11amaiNagT</div>
<div class="t" style="left:871.38px;width:0;top:323.35px;font-size:13.5px;color:#000;"><span class="c">isz</span></div>
<div class="t" style="left:831.93px;top:343.26px;font-size:10.3px;color:#000;">119</div>
<div class="t s2" style="right:112.78px;top:348.46px;font-size:5.2px;color:#111;">NagT</div>
<div class="k" style="left:915.45px;top:302.9px;width:88.55px;height:52.8px;background:#d6e2e9"></div>
<div class="t s2" style="right:24.23px;top:307.14px;font-size:5.2px;color:#111;">11maeOCsB</div>
<div class="t" style="left:959.92px;width:0;top:323.35px;font-size:13.5px;color:#000;"><span class="c">mai</span></div>
<div class="t" style="left:920.48px;top:343.26px;font-size:10.3px;color:#000;">206</div>
<div class="t s2" style="right:24.23px;top:348.46px;font-size:5.2px;color:#111;">OCsB</div>
<div class="k" style="left:826.9px;top:355.7px;width:88.55px;height:52.8px;background:#ff8080"></div>
<div class="t s2" style="right:112.78px;top:359.94px;font-size:5.2px;color:#111;">11amaiNagT</div>
<div class="t" style="left:871.38px;width:0;top:376.15px;font-size:13.5px;color:#000;"><span class="c">mai</span></div>
<div class="t" style="left:831.93px;top:396.06px;font-size:10.3px;color:#000;">119</div>
<div class="t s2" style="right:112.78px;top:401.26px;font-size:5.2px;color:#111;">NagT</div>
<div class="k" style="left:915.45px;top:355.7px;width:88.55px;height:52.8px;background:#d6e2e9"></div>
<div class="t s2" style="right:24.23px;top:359.94px;font-size:5.2px;color:#111;">11maeOCsB</div>
<div class="t" style="left:959.92px;width:0;top:376.15px;font-size:13.5px;color:#000;"><span class="c">mai</span></div>
<div class="t" style="left:920.48px;top:396.06px;font-size:10.3px;color:#000;">206</div>
<div class="t s2" style="right:24.23px;top:401.26px;font-size:5.2px;color:#111;">OCsB</div>
<div class="k" style="left:826.9px;top:408.5px;width:88.55px;height:52.8px;background:#d98888"></div>
<div class="t s2" style="right:112.78px;top:412.74px;font-size:5.2px;color:#111;">11atesHerÁ</div>
<div class="t" style="left:871.38px;width:0;top:428.95px;font-size:13.5px;color:#000;"><span class="c">tes</span></div>
<div class="t" style="left:831.93px;top:448.86px;font-size:10.3px;color:#000;">t2</div>
<div class="t s2" style="right:112.78px;top:454.06px;font-size:5.2px;color:#111;">HerÁ</div>
<div class="k" style="left:915.45px;top:408.5px;width:88.55px;height:52.8px;background:#66ffff"></div>
<div class="t s2" style="right:24.23px;top:412.74px;font-size:5.2px;color:#111;">11atesTödM</div>
<div class="t" style="left:959.92px;width:0;top:428.95px;font-size:13.5px;color:#000;"><span class="c">tes</span></div>
<div class="t" style="left:920.48px;top:448.86px;font-size:10.3px;color:#000;">t1</div>
<div class="t s2" style="right:24.23px;top:454.06px;font-size:5.2px;color:#111;">TödM</div>
<div class="k" style="left:915.45px;top:461.3px;width:44.27px;height:158.4px;background:#ff99bb"></div>
<div class="t s2" style="right:66.29px;top:470.82px;font-size:5.2px;color:#111;">11föeTurL/11föT</div>
<div class="t s2" style="right:66.29px;top:476.02px;font-size:5.2px;color:#111;">urL</div>
<div class="t" style="left:937.79px;width:0;top:534.55px;font-size:13.5px;color:#000;"><span class="c">föe</span></div>
<div class="t" style="left:918.26px;top:601.98px;font-size:10.3px;color:#000;">23</div>
<div class="t s2" style="right:66.29px;top:607.18px;font-size:5.2px;color:#111;">TurL</div>
<div class="k" style="left:826.9px;top:514.1px;width:44.27px;height:52.8px;background:#33ccff"></div>
<div class="t s2" style="right:154.84px;top:518.34px;font-size:5.2px;color:#111;">11adangFarD</div>
<div class="t" style="left:849.24px;width:0;top:534.55px;font-size:13.5px;color:#000;"><span class="c">ang</span></div>
<div class="t" style="left:829.71px;top:554.46px;font-size:10.3px;color:#000;">01b</div>
<div class="t s2" style="right:154.84px;top:559.66px;font-size:5.2px;color:#111;">FarD</div>
<div class="l" style="left:20px;top:86px;width:984px;height:1px;background:#444"></div>
<div class="l" style="left:20px;top:672px;width:984px;height:1px;background:#444"></div>
<div class="l" style="left:20px;top:86px;width:1px;height:586.5px;background:#444"></div>
<div class="l" style="left:1003px;top:86px;width:1px;height:586.5px;background:#444"></div>
<div class="l" style="left:20px;top:144px;width:984px;height:2px;background:rgba(0,0,0,0.58)"></div>
<div class="l" style="left:118px;top:86px;width:2px;height:586.5px;background:rgba(0,0,0,0.55)"></div>
</body></html>
